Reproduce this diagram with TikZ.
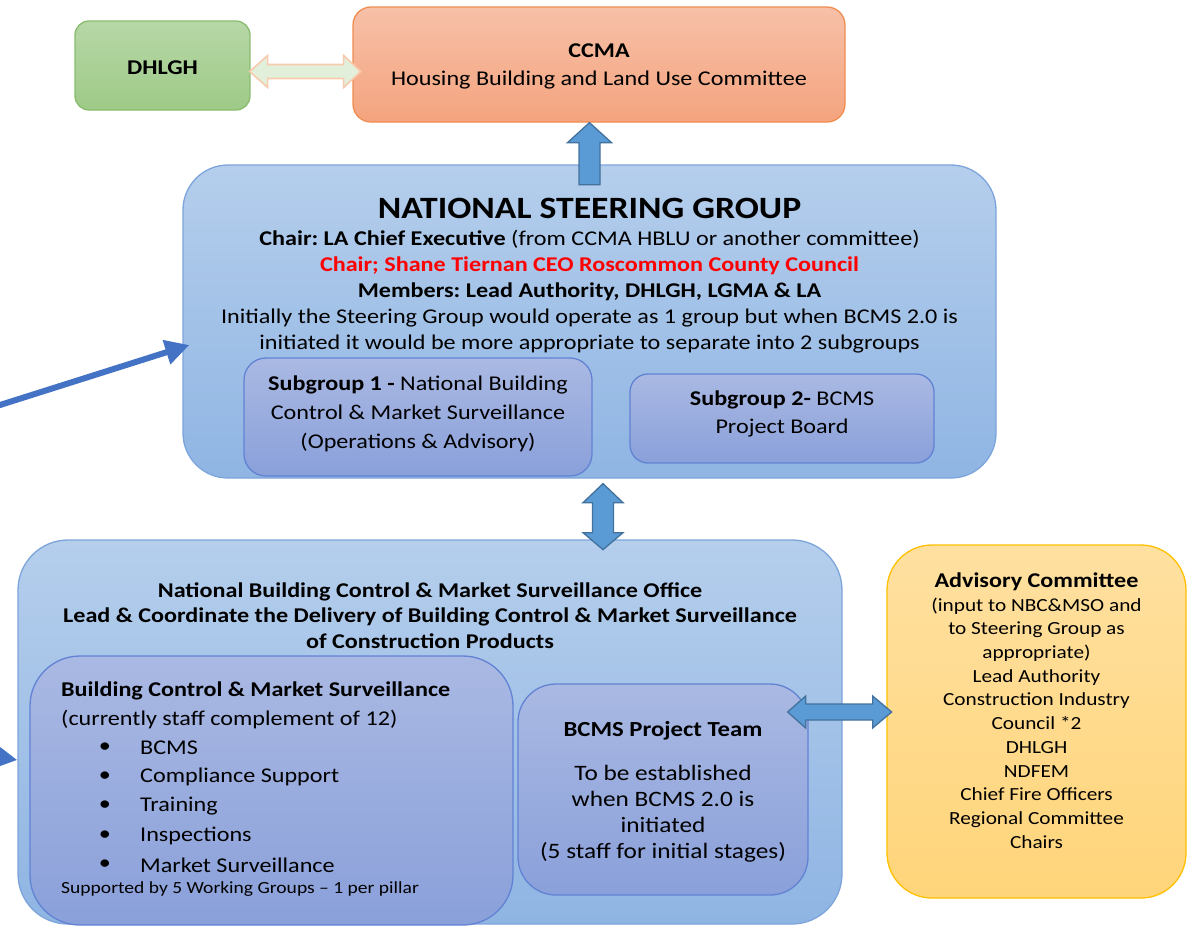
\documentclass[tikz,border=0pt]{standalone}
\usepackage{fontspec}
\setmainfont{Carlito}[FakeStretch=1.15]
\usetikzlibrary{arrows.meta,calc}
\frenchspacing

\definecolor{greentop}{RGB}{183,215,167}
\definecolor{greenbot}{RGB}{158,202,135}
\definecolor{greenedge}{RGB}{137,188,110}
\definecolor{orangetop}{RGB}{247,192,168}
\definecolor{orangebot}{RGB}{244,164,126}
\definecolor{orangeedge}{RGB}{240,140,80}
\definecolor{bluetop}{RGB}{181,206,236}
\definecolor{bluebot}{RGB}{143,181,227}
\definecolor{blueedge}{RGB}{125,165,219}
\definecolor{subtop}{RGB}{170,185,227}
\definecolor{subbot}{RGB}{138,160,218}
\definecolor{subedge}{RGB}{98,130,212}
\definecolor{yellowtop}{RGB}{255,224,160}
\definecolor{yellowbot}{RGB}{255,213,122}
\definecolor{yellowedge}{RGB}{255,192,0}
\definecolor{arrowfill}{RGB}{91,155,213}
\definecolor{arrowedge}{RGB}{65,113,156}
\definecolor{leadblue}{RGB}{68,114,196}
\definecolor{palegreen}{RGB}{226,239,218}
\definecolor{paleorange}{RGB}{248,203,173}

\begin{document}
\begin{tikzpicture}[x=1pt,y=-1pt,
		box/.style={draw, rounded corners=#1, line width=1.3pt, inner sep=0pt},
		txt/.style={inner sep=0pt, align=center, font=\fontsize{21}{26}\selectfont},
		blockarrow/.style={draw=arrowedge, fill=arrowfill, line width=1.3pt},
		leadarrow/.style={draw=leadblue, line width=6pt, -{Triangle[length=24pt,width=24pt]}}]
		\useasboundingbox (0,0) rectangle (1191,930);
		\clip (0,0) rectangle (1191,930);

		% boxes
		\node [box=14, top color=greentop, bottom color=greenbot, draw=greenedge,
			minimum width=175pt, minimum height=89pt] (dhlgh) at (162.5,65.5) {};
		\node [box=18, top color=orangetop, bottom color=orangebot, draw=orangeedge,
			minimum width=492pt, minimum height=115pt] (ccma) at (599,64.5) {};
		\node [box=45, top color=bluetop, bottom color=bluebot, draw=blueedge,
			minimum width=813pt, minimum height=313pt] (nsg) at (589.5,321.5) {};
		\node [box=22, top color=subtop, bottom color=subbot, draw=subedge,
			minimum width=348pt, minimum height=118pt] (sub1) at (418,417) {};
		\node [box=18, top color=subtop, bottom color=subbot, draw=subedge,
			minimum width=304pt, minimum height=89pt] (sub2) at (782,418.5) {};
		\node [box=50, top color=bluetop, bottom color=bluebot, draw=blueedge,
			minimum width=824pt, minimum height=384pt] (nbco) at (430,732) {};
		\node [box=50, top color=subtop, bottom color=subbot, draw=subedge,
			minimum width=483pt, minimum height=269pt] (bcms) at (271.5,790.5) {};
		\node [box=38, top color=subtop, bottom color=subbot, draw=subedge,
			minimum width=290pt, minimum height=211pt] (team) at (663,789.5) {};
		\node [box=45, top color=yellowtop, bottom color=yellowbot, draw=yellowedge,
			minimum width=299pt, minimum height=353pt] (adv) at (1036.5,721.5) {};

		% texts
		\node [txt] (dhlghtxt) at (162.5,68) {\textbf{DHLGH}};
		\node [txt, font=\fontsize{21}{28}\selectfont] (ccmatxt) at (599,66) {\textbf{CCMA}\\Housing Building and Land Use Committee};
		\node [txt, font=\fontsize{31}{34}\selectfont\bfseries] (nsgtitle) at (589.5,208) {NATIONAL STEERING GROUP};
		\node [txt] (nsgtxt) at (589.5,292) {\textbf{Chair: LA Chief Executive} (from CCMA HBLU or another committee)\\
			\textcolor{red}{\textbf{Chair; Shane Tiernan CEO Roscommon County Council}}\\
			\textbf{Members: Lead Authority, DHLGH, LGMA \& LA}\\
			Initially the Steering Group would operate as 1 group but when BCMS 2.0 is\\
			initiated it would be more appropriate to separate into 2 subgroups};
		\node [txt, font=\fontsize{21}{29}\selectfont] (sub1txt) at (418,414) {\textbf{Subgroup 1 -} National Building\\
			Control \& Market Surveillance\\(Operations \& Advisory)};
		\node [txt, font=\fontsize{21}{28}\selectfont] (sub2txt) at (782,414) {\textbf{Subgroup 2-} BCMS\\Project Board};
		\node [txt, font=\fontsize{21}{25.5}\selectfont\bfseries] (nbcotxt) at (430,615.5) {National Building Control \& Market Surveillance Office\\
			Lead \& Coordinate the Delivery of Building Control \& Market Surveillance\\
			of Construction Products};
		\node [txt, anchor=west] (bcmstitle) at (61,691) {\textbf{Building Control \& Market Surveillance}};
		\node [txt, anchor=west] (bcmsstaff) at (61,719) {(currently staff complement of 12)};
		\node [txt] (dot1) at (105,748) {\textbullet};
		\node [txt] (dot2) at (105,777) {\textbullet};
		\node [txt] (dot3) at (105,806) {\textbullet};
		\node [txt] (dot4) at (105,836) {\textbullet};
		\node [txt] (dot5) at (105,865) {\textbullet};
		\node [txt, anchor=west] (item1) at (140,748) {BCMS};
		\node [txt, anchor=west] (item2) at (140,777) {Compliance Support};
		\node [txt, anchor=west] (item3) at (140,806) {Training};
		\node [txt, anchor=west] (item4) at (140,836) {Inspections};
		\node [txt, anchor=west] (item5) at (140,865) {Market Surveillance};
		\node [txt, anchor=west, font=\fontsize{17}{20}\selectfont] (bcmsnote) at (61,889) {Supported by 5 Working Groups -- 1 per pillar};
		\node [txt, font=\fontsize{21.5}{26}\selectfont] (teamtitle) at (663,731) {\textbf{BCMS Project Team}};
		\node [txt, font=\fontsize{22}{26}\selectfont] (teamtxt) at (663,814) {To be established\\when BCMS 2.0 is\\initiated\\(5 staff for initial stages)};
		\node [txt, font=\fontsize{18.5}{23.7}\selectfont] (advtxt) at (1036.5,710.5) {{\fontsize{21}{23.7}\selectfont\textbf{Advisory Committee}}\\
			(input to NBC\&MSO and\\to Steering Group as\\appropriate)\\Lead Authority\\Construction Industry\\
			Council *2\\DHLGH\\NDFEM\\Chief Fire Officers\\Regional Committee\\Chairs};

		% block arrows
		\draw [draw=paleorange, fill=palegreen, line width=1.6pt]
			($(dhlgh.east)+(-1,6)$) -- ++(18,-16) -- ++(0,9) -- ++(76,0) -- ++(0,-9) -- ++(17,16)
			-- ++(-17,16) -- ++(0,-9) -- ++(-76,0) -- ++(0,9) -- cycle;
		\draw [blockarrow] (ccma.south -| nsg.north) -- ++(22,20) -- ++(-11.5,0) -- ++(0,42)
			-- ++(-21,0) -- ++(0,-42) -- ++(-11.5,0) -- cycle;
		\draw [blockarrow] ($(nsg.south)+(13.5,5)$) -- ++(20,19) -- ++(-9.5,0) -- ++(0,30) -- ++(9.5,0)
			-- ++(-20,17) -- ++(-20,-17) -- ++(9.5,0) -- ++(0,-30) -- ++(-9.5,0) -- cycle;
		\draw [blockarrow] ($(team.east)+(-21,-77.5)$) -- ++(18,-16) -- ++(0,8) -- ++(67,0) -- ++(0,-8)
			-- ++(19,16) -- ++(-19,16) -- ++(0,-8) -- ++(-67,0) -- ++(0,8) -- cycle;

		% lead-in arrows
		\coordinate (srcA) at (-60,424);
		\coordinate (srcB) at (-60,748);
		\draw [leadarrow] (srcA) -- ($(nsg.west)+(7,23.5)$);
		\draw [leadarrow] (srcB) -- ($(nbco.west)+(0,28)$);
\end{tikzpicture}
\end{document}
